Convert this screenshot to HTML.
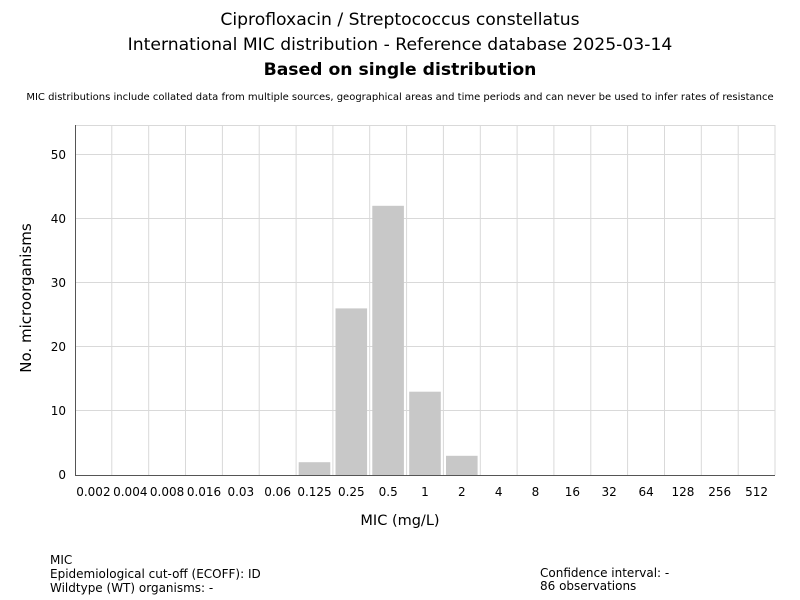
<!DOCTYPE html>
<html><head><style>body{margin:0;background:#fff}svg{display:block;font-family:"DejaVu Sans","Liberation Sans",sans-serif}</style></head><body>
<svg width="800" height="600" xmlns="http://www.w3.org/2000/svg">
<rect width="800" height="600" fill="#fff"/>
<text x="400" y="25" font-size="17.2" text-anchor="middle" fill="#000">Ciprofloxacin / Streptococcus constellatus</text>
<text x="400" y="50" font-size="17.2" text-anchor="middle" fill="#000">International MIC distribution - Reference database 2025-03-14</text>
<text x="400" y="75" font-size="17.2" font-weight="bold" text-anchor="middle" fill="#000">Based on single distribution</text>
<text x="400" y="100" font-size="10" text-anchor="middle" fill="#000">MIC distributions include collated data from multiple sources, geographical areas and time periods and can never be used to infer rates of resistance</text>
<g stroke="#d9d9d9" stroke-width="1">
<line x1="75" y1="125.5" x2="775" y2="125.5"/>
<line x1="75" y1="154.5" x2="775" y2="154.5"/>
<line x1="75" y1="218.5" x2="775" y2="218.5"/>
<line x1="75" y1="282.5" x2="775" y2="282.5"/>
<line x1="75" y1="346.5" x2="775" y2="346.5"/>
<line x1="75" y1="410.5" x2="775" y2="410.5"/>
<line x1="111.8" y1="125" x2="111.8" y2="475"/><line x1="148.7" y1="125" x2="148.7" y2="475"/><line x1="185.5" y1="125" x2="185.5" y2="475"/><line x1="222.4" y1="125" x2="222.4" y2="475"/><line x1="259.2" y1="125" x2="259.2" y2="475"/><line x1="296.1" y1="125" x2="296.1" y2="475"/><line x1="332.9" y1="125" x2="332.9" y2="475"/><line x1="369.7" y1="125" x2="369.7" y2="475"/><line x1="406.6" y1="125" x2="406.6" y2="475"/><line x1="443.4" y1="125" x2="443.4" y2="475"/><line x1="480.3" y1="125" x2="480.3" y2="475"/><line x1="517.1" y1="125" x2="517.1" y2="475"/><line x1="553.9" y1="125" x2="553.9" y2="475"/><line x1="590.8" y1="125" x2="590.8" y2="475"/><line x1="627.6" y1="125" x2="627.6" y2="475"/><line x1="664.5" y1="125" x2="664.5" y2="475"/><line x1="701.3" y1="125" x2="701.3" y2="475"/><line x1="738.2" y1="125" x2="738.2" y2="475"/><line x1="775" y1="125" x2="775" y2="475"/>
</g>
<g fill="#c8c8c8">
<rect x="298.7" y="462.2" width="31.6" height="12.8"/>
<rect x="335.5" y="308.4" width="31.6" height="166.6"/>
<rect x="372.3" y="205.8" width="31.6" height="269.2"/>
<rect x="409.2" y="391.7" width="31.6" height="83.3"/>
<rect x="446" y="455.8" width="31.6" height="19.2"/>
</g>
<line x1="75.5" y1="125" x2="75.5" y2="475" stroke="#555"/>
<line x1="75" y1="475.5" x2="775" y2="475.5" stroke="#555"/>
<g font-size="12" text-anchor="end" fill="#000">
<text x="66" y="159">50</text><text x="66" y="223">40</text><text x="66" y="287">30</text><text x="66" y="351">20</text><text x="66" y="415">10</text><text x="66" y="479">0</text>
</g>
<g font-size="12" text-anchor="middle" fill="#000">
<text x="93.4" y="496">0.002</text><text x="130.3" y="496">0.004</text><text x="167.1" y="496">0.008</text><text x="204" y="496">0.016</text><text x="240.8" y="496">0.03</text><text x="277.6" y="496">0.06</text><text x="314.5" y="496">0.125</text><text x="351.3" y="496">0.25</text><text x="388.2" y="496">0.5</text><text x="425" y="496">1</text><text x="461.8" y="496">2</text><text x="498.7" y="496">4</text><text x="535.5" y="496">8</text><text x="572.4" y="496">16</text><text x="609.2" y="496">32</text><text x="646.1" y="496">64</text><text x="682.9" y="496">128</text><text x="719.7" y="496">256</text><text x="756.6" y="496">512</text>
</g>
<text x="400" y="525" font-size="14.5" text-anchor="middle">MIC (mg/L)</text>
<text transform="translate(31,298) rotate(-90)" font-size="15" text-anchor="middle">No. microorganisms</text>
<g font-size="12" fill="#000">
<text x="50" y="564">MIC</text>
<text x="50" y="578">Epidemiological cut-off (ECOFF): ID</text>
<text x="50" y="592">Wildtype (WT) organisms:  -</text>
<text x="540" y="577">Confidence interval: -</text>
<text x="540" y="590">86 observations</text>
</g>
</svg>
</body></html>
